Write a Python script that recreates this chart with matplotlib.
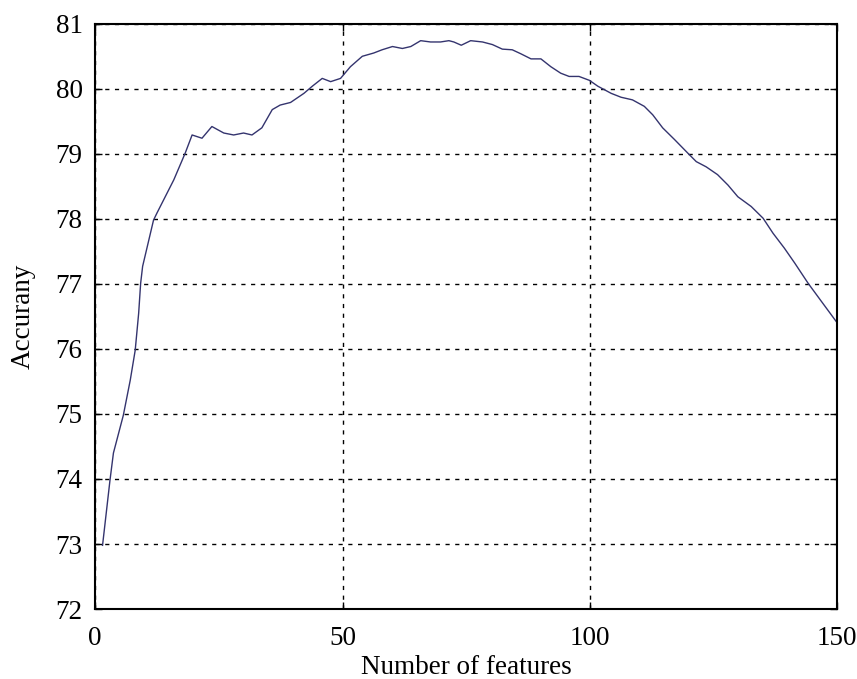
import matplotlib
matplotlib.use("Agg")
import matplotlib.pyplot as plt

features = [1.5, 3.0, 3.7, 5.7, 7.1, 8.1, 8.8, 9.2, 9.6, 11.8, 12.5, 15.9, 18.2, 19.6,
            21.6, 23.6, 26.0, 28.0, 30.0, 31.7, 33.7, 35.8, 37.4, 39.5, 42.2, 43.9,
            45.9, 47.6, 49.6, 51.6, 54.0, 56.3, 58.0, 60.1, 62.1, 63.8, 65.8, 67.8,
            69.8, 71.5, 72.5, 74.0, 75.9, 78.3, 80.3, 82.3, 84.3, 86.0, 88.1, 90.1,
            92.1, 94.1, 95.8, 97.8, 99.9, 101.6, 104.3, 106.3, 108.6, 111.0, 112.7,
            114.7, 117.1, 119.8, 121.5, 123.5, 125.8, 127.9, 129.9, 132.6, 135.0,
            137.0, 139.3, 141.4, 144.1, 146.8, 149.8]
accuracy = [72.98, 73.98, 74.40, 74.98, 75.52, 75.98, 76.55, 77.01, 77.27, 77.98,
            78.09, 78.60, 79.01, 79.29, 79.24, 79.42, 79.32, 79.29, 79.32, 79.29,
            79.40, 79.68, 79.75, 79.79, 79.93, 80.04, 80.16, 80.11, 80.16, 80.34,
            80.50, 80.55, 80.60, 80.65, 80.62, 80.65, 80.74, 80.72, 80.72, 80.74,
            80.72, 80.67, 80.74, 80.72, 80.68, 80.61, 80.60, 80.54, 80.46, 80.46,
            80.34, 80.24, 80.19, 80.19, 80.13, 80.04, 79.93, 79.87, 79.83, 79.73,
            79.60, 79.40, 79.22, 79.01, 78.88, 78.80, 78.68, 78.52, 78.34, 78.19,
            78.01, 77.78, 77.55, 77.32, 77.01, 76.73, 76.42]
xticks = [0, 50, 100, 150]
yticks = [72, 73, 74, 75, 76, 77, 78, 79, 80, 81]

plt.rcParams['font.family'] = ['Liberation Serif', 'DejaVu Serif']

fig = plt.figure(figsize=(8.57, 6.79), dpi=100)
ax = fig.add_axes([0.111, 0.103, 0.866, 0.862])
ax.plot(features, accuracy, color='#34346e', linewidth=1.0)
ax.set_xlim(0, 150)
ax.set_ylim(72, 81)
ax.set_xticks(xticks)
ax.set_yticks(yticks)
ax.grid(True, color='black', linestyle=(0, (3, 4)), linewidth=1.0)
ax.tick_params(direction='in', length=5, width=1, labelsize=19.5,
               top=True, right=True)
ax.tick_params(axis='x', pad=12)
ax.tick_params(axis='y', pad=9)
for s in ax.spines.values():
    s.set_linewidth(1.5)
ax.set_xlabel('Number of features', fontsize=19.5, labelpad=3)
ax.set_ylabel('Accurany', fontsize=19.5, labelpad=14)
fig.savefig('out.png', dpi=100)
